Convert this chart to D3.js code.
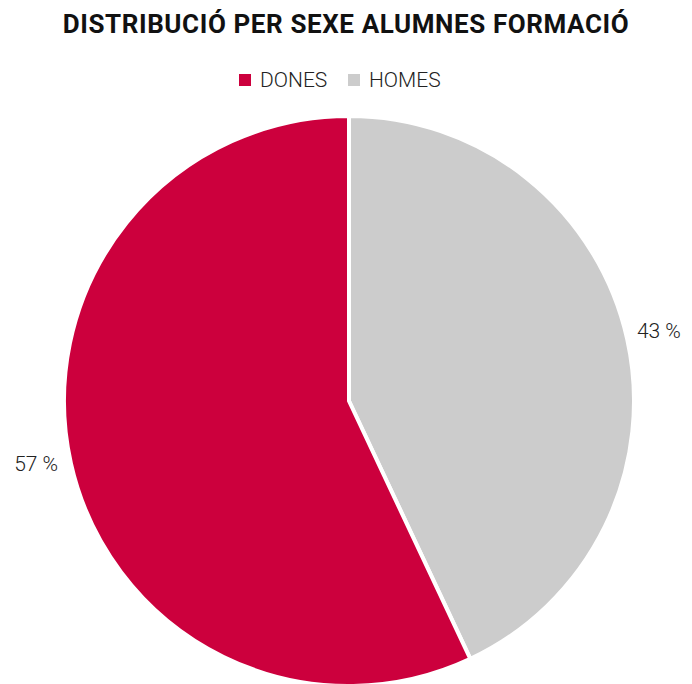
<!DOCTYPE html>
<html>
<head>
<meta charset="utf-8">
<script src="https://cdn.jsdelivr.net/npm/d3@7"></script>
<style>
  body { margin: 0; background: #fff; }
  text { font-family: Roboto, "Noto Sans", sans-serif; }
</style>
</head>
<body>
<div id="chart"></div>
<script>
var categories = ["DONES", "HOMES"];
var values = [57, 43];
var colors = ["#cc003d", "#cccccc"];

var width = 692, height = 684;
var cx = 349, cy = 401, radius = 285;

var svg = d3.select("#chart").append("svg")
  .attr("width", width)
  .attr("height", height);

// title
svg.append("text")
  .attr("x", 346)
  .attr("y", 33)
  .attr("text-anchor", "middle")
  .style("font-size", "26px")
  .style("font-weight", "bold")
  .style("letter-spacing", "0.6px")
  .style("fill", "#111")
  .text("DISTRIBUCIÓ PER SEXE ALUMNES FORMACIÓ");

// legend
var legend = svg.append("g").attr("transform", "translate(239,72)");
var legX = [0, 109];
categories.forEach(function(c, i) {
  var g = legend.append("g").attr("transform", "translate(" + legX[i] + ",0)");
  g.append("rect").attr("x", 0).attr("y", 2).attr("width", 12).attr("height", 12).style("fill", colors[i]);
  g.append("text").attr("x", 21).attr("y", 15)
    .style("font-size", "21px").style("font-weight", 300).style("fill", "#222").text(c);
});

// pie: HOMES starts at 12 o'clock going clockwise, DONES follows
var order = [1, 0];
var pie = d3.pie().sort(null).value(function(d) { return values[d]; });
var arc = d3.arc().innerRadius(0).outerRadius(radius);
var arcs = pie(order);

var g = svg.append("g").attr("transform", "translate(" + cx + "," + cy + ")");
g.selectAll("path")
  .data(arcs)
  .enter().append("path")
  .attr("d", arc)
  .style("fill", function(d) { return colors[d.data]; })
  .style("stroke", "#fff")
  .style("stroke-width", 4)
  .style("stroke-linejoin", "round");

// labels outside
g.selectAll(".lbl")
  .data(arcs)
  .enter().append("text")
  .attr("class", "lbl")
  .attr("x", function(d) {
    var mid = (d.startAngle + d.endAngle) / 2;
    return Math.sin(mid) * (radius + 10) + (Math.sin(mid) > 0 ? 0 : -3);
  })
  .attr("y", function(d) {
    var mid = (d.startAngle + d.endAngle) / 2;
    return -Math.cos(mid) * (radius + 10) * 0.9 + (Math.sin(mid) > 0 ? -5 : 12);
  })
  .attr("text-anchor", function(d) {
    var mid = (d.startAngle + d.endAngle) / 2;
    return Math.sin(mid) > 0 ? "start" : "end";
  })
  .style("font-size", "21px")
  .style("font-weight", 300)
  .style("fill", "#222")
  .text(function(d) { return values[d.data] + " %"; });
</script>
</body>
</html>
